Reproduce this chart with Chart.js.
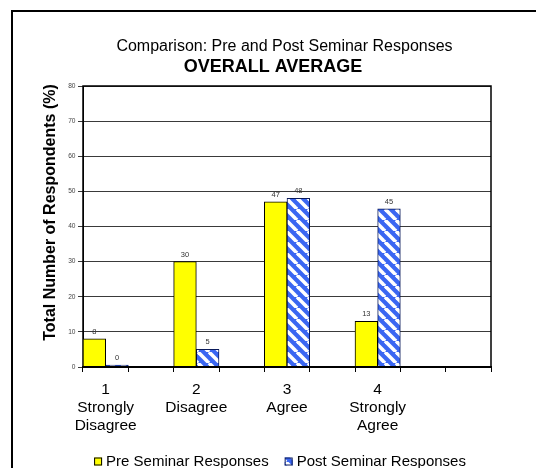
<!DOCTYPE html>
<html>
<head>
<meta charset="utf-8">
<script src="https://cdn.jsdelivr.net/npm/chart.js@4.4.0/dist/chart.umd.min.js"></script>
<style>
  html, body { margin: 0; padding: 0; background: #fff; }
  #wrap { position: relative; width: 536px; height: 468px; overflow: hidden; }
  #frame { position: absolute; left: 11px; top: 10px; width: 700px; height: 700px;
           border-left: 2px solid #000; border-top: 2px solid #000; }
  canvas { position: absolute; left: 0; top: 0; }
</style>
</head>
<body>
<div id="wrap">
  <div id="frame"></div>
  <canvas id="c" width="536" height="468"></canvas>
</div>
<script>
// Response categories (empty slots act as spacers between groups)
const categories = [["1", "Strongly", "Disagree"], "", ["2", "Disagree"], "", ["3", "Agree"], "", ["4", "Strongly", "Agree"], "", ""];
const preSeminar  = [8, null, 30, null, 47, null, 13, null, null];
const postSeminar = [0, null, 5, null, 48, null, 45, null, null];
const seriesNames = ["Pre Seminar Responses", "Post Seminar Responses"];
const yMin = 0, yMax = 80, yStep = 10;

const titleText = "Comparison: Pre and Post Seminar Responses";
const subtitleText = "OVERALL AVERAGE";
const yTitleText = "Total Number of Respondents (%)";

const FONT = "Arial, 'Liberation Sans', sans-serif";

// Blue fill with white diagonal stripes
function makeStripes() {
  const s = 11;
  const p = document.createElement('canvas');
  p.width = s; p.height = s;
  const g = p.getContext('2d');
  g.fillStyle = '#3a66f2';
  g.fillRect(0, 0, s, s);
  g.strokeStyle = '#ffffff';
  g.lineWidth = 3.6;
  for (const k of [-s, 0, s]) {
    g.beginPath();
    g.moveTo(k, 0);
    g.lineTo(k + s, s);
    g.stroke();
  }
  return document.getElementById('c').getContext('2d').createPattern(p, 'repeat');
}
const stripes = makeStripes();

const decorations = {
  id: 'decorations',
  beforeDatasetsDraw(chart) {
    const { ctx, chartArea: a } = chart;
    ctx.save();
    ctx.strokeStyle = '#000';
    ctx.lineWidth = 1.5;
    ctx.strokeRect(a.left, a.top, a.right - a.left, a.bottom - a.top);
    ctx.restore();
  },
  afterDatasetsDraw(chart) {
    const { ctx } = chart;
    ctx.save();
    // bottom axis line on top of bars
    const a = chart.chartArea;
    ctx.strokeStyle = '#000';
    ctx.lineWidth = 2;
    ctx.beginPath();
    ctx.moveTo(a.left, a.bottom);
    ctx.lineTo(a.right, a.bottom);
    ctx.stroke();
    // value labels above bars
    ctx.font = "7.5px " + FONT;
    ctx.fillStyle = '#333';
    ctx.textAlign = 'center';
    ctx.textBaseline = 'alphabetic';
    chart.data.datasets.forEach((ds, i) => {
      chart.getDatasetMeta(i).data.forEach((el, j) => {
        const v = ds.data[j];
        if (v === null || v === undefined) return;
        ctx.fillText(String(v), el.x, el.y - 5);
      });
    });
    ctx.restore();
  },
  afterDraw(chart) {
    const { ctx } = chart;
    ctx.save();
    ctx.fillStyle = '#000';
    ctx.textAlign = 'center';
    ctx.textBaseline = 'alphabetic';
    ctx.font = "16px " + FONT;
    ctx.fillText(titleText, 284.5, 50.8);
    ctx.font = "bold 18px " + FONT;
    ctx.fillText(subtitleText, 273, 71.7);

    // y axis title
    ctx.save();
    ctx.translate(51, 212.5);
    ctx.rotate(-Math.PI / 2);
    ctx.font = "bold 16px " + FONT;
    ctx.textBaseline = 'middle';
    ctx.fillText(yTitleText, 0, 0);
    ctx.restore();

    // legend
    ctx.font = "15px " + FONT;
    const box = 8, gap = 4, space = 16;
    const w0 = ctx.measureText(seriesNames[0]).width;
    const w1 = ctx.measureText(seriesNames[1]).width;
    const total = box + gap + w0 + space + box + gap + w1;
    let x = 280 - total / 2;
    const cy = 461.5;
    const fills = [chart.data.datasets[0].backgroundColor, chart.data.datasets[1].backgroundColor];
    const edges = [chart.data.datasets[0].borderColor, chart.data.datasets[1].borderColor];
    [w0, w1].forEach((w, i) => {
      ctx.fillStyle = fills[i];
      ctx.fillRect(x, cy - box / 2, box, box);
      ctx.strokeStyle = edges[i];
      ctx.lineWidth = 1;
      ctx.strokeRect(x + 0.5, cy - box / 2 + 0.5, box - 1, box - 1);
      ctx.fillStyle = '#000';
      ctx.textAlign = 'left';
      ctx.textBaseline = 'middle';
      ctx.fillText(seriesNames[i], x + box + gap, cy);
      x += box + gap + w + space;
    });
    ctx.restore();
  }
};

new Chart(document.getElementById('c'), {
  type: 'bar',
  data: {
    labels: categories,
    datasets: [
      {
        label: seriesNames[0],
        data: preSeminar,
        backgroundColor: '#ffff00',
        borderColor: '#000000',
        borderWidth: 1,
        categoryPercentage: 1,
        barPercentage: 1
      },
      {
        label: seriesNames[1],
        data: postSeminar,
        backgroundColor: stripes,
        borderColor: '#0a1a5a',
        borderWidth: 1,
        minBarLength: 2,
        categoryPercentage: 1,
        barPercentage: 1
      }
    ]
  },
  options: {
    responsive: false,
    animation: false,
    layout: { padding: { left: 20, top: 86, right: 45, bottom: 0 } },
    plugins: {
      legend: { display: false },
      title: { display: false },
      tooltip: { enabled: false }
    },
    scales: {
      x: {
        afterFit(scale) { scale.height = 101; },
        grid: { display: true, offset: true, drawOnChartArea: false, drawTicks: true, tickLength: 5, color: '#000', lineWidth: 1 },
        border: { display: true, color: '#000', width: 2 },
        ticks: {
          color: '#000',
          font: { family: FONT, size: 15.5, lineHeight: 1.19 },
          padding: 8,
          maxRotation: 0,
          autoSkip: false
        }
      },
      y: {
        min: yMin,
        max: yMax,
        afterFit(scale) { scale.width = 63; },
        grid: { color: '#3a3a3a', lineWidth: 1, tickLength: 5, drawTicks: true },
        border: { display: true, color: '#000', width: 1 },
        ticks: {
          stepSize: yStep,
          color: '#444',
          font: { family: FONT, size: 6.6 },
          padding: 2.5
        }
      }
    }
  },
  plugins: [decorations]
});
</script>
</body>
</html>
